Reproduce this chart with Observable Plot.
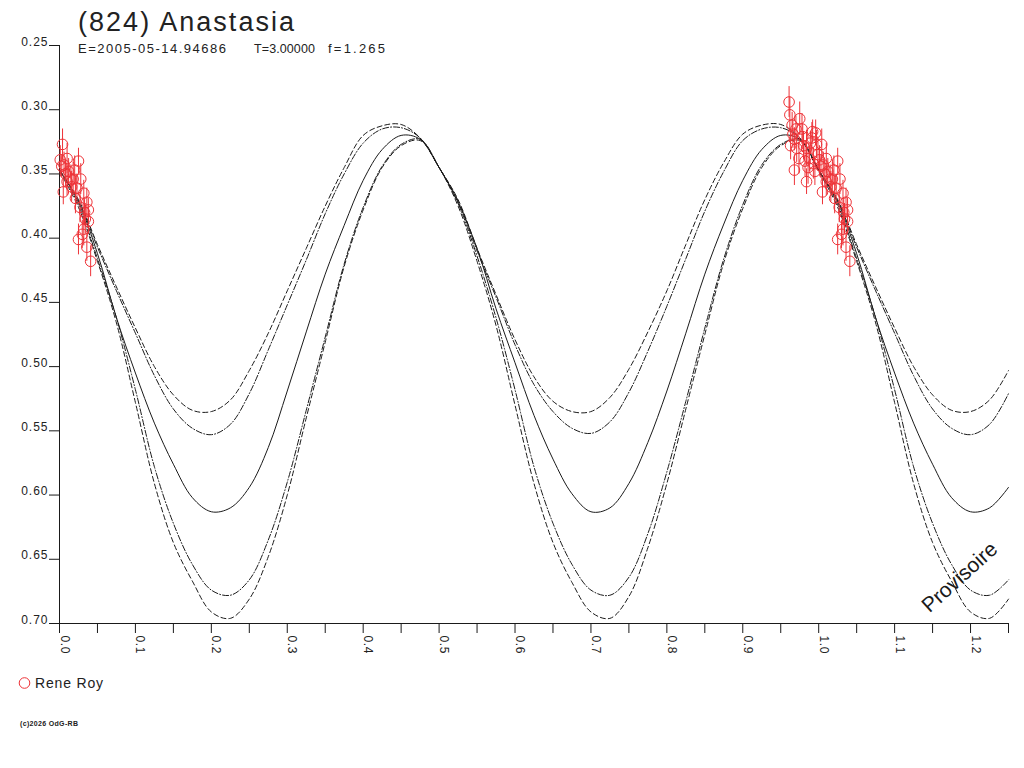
<!DOCTYPE html>
<html><head><meta charset="utf-8">
<script src="https://cdn.jsdelivr.net/npm/d3@7"></script>
<script src="https://cdn.jsdelivr.net/npm/@observablehq/plot@0.6"></script>
<style>
body{margin:0;background:#fff;}
#wrap{position:relative;width:1024px;height:768px;font-family:"Liberation Sans",Arial,sans-serif;color:#222;overflow:hidden;}
#chart svg{position:absolute;left:0;top:0;overflow:visible;}
#overlay{position:absolute;left:0;top:0;pointer-events:none;}
g[aria-label="y-axis tick label"] text{letter-spacing:1px;}
g.xlab text{letter-spacing:0.6px;}
</style></head><body>
<div id="wrap">
  <div id="chart"></div>
  <svg id="overlay" width="1024" height="768" font-family="'Liberation Sans', Arial, sans-serif" fill="#222">
    <text x="78" y="31" font-size="27" textLength="216" lengthAdjust="spacing">(824) Anastasia</text>
    <text x="78" y="53" font-size="13" textLength="148" lengthAdjust="spacing">E=2005-05-14.94686</text>
    <text x="254" y="53" font-size="12.5" letter-spacing="0.1">T=3.00000</text>
    <text x="328" y="53" font-size="13" textLength="57" lengthAdjust="spacing">f=1.265</text>
    <circle cx="24.5" cy="683" r="5.3" fill="none" stroke="#ee3338" stroke-width="1"></circle>
    <text x="35" y="688" font-size="14" textLength="68" lengthAdjust="spacing">Rene Roy</text>
    <text x="20" y="726" font-size="7" font-weight="bold" textLength="58" lengthAdjust="spacing">(c)2026 OdG-RB</text>
  </svg>
</div>
<script>
// sample phases of the model curves (0 .. 1, step 0.025); phases 1..1.25 repeat 0..0.25
const phaseGrid = d3.range(41).map(i => +(i * 0.025).toFixed(3));

const curveSolid = [0.347,0.372,0.412,0.462,0.505,0.544,0.576,0.602,0.613,0.610,0.594,0.563,0.519,0.473,0.428,0.390,0.355,0.331,0.320,0.323,0.345,
                    0.372,0.408,0.455,0.497,0.538,0.572,0.599,0.613,0.610,0.591,0.559,0.519,0.474,0.428,0.389,0.355,0.331,0.320,0.323,0.347];
const curveA = [0.347,0.370,0.405,0.438,0.470,0.500,0.522,0.534,0.535,0.526,0.503,0.474,0.441,0.408,0.375,0.345,0.320,0.3125,0.3115,0.322,0.345,
                0.370,0.408,0.444,0.479,0.508,0.527,0.535,0.535,0.524,0.502,0.473,0.441,0.405,0.370,0.341,0.319,0.312,0.3115,0.322,0.347];
const curveB = [0.347,0.371,0.407,0.441,0.474,0.507,0.533,0.548,0.553,0.545,0.521,0.487,0.452,0.417,0.381,0.350,0.326,0.315,0.314,0.322,0.345,
                0.371,0.410,0.446,0.483,0.514,0.535,0.548,0.552,0.543,0.520,0.488,0.453,0.416,0.379,0.348,0.324,0.315,0.314,0.322,0.347];
const curveC = [0.347,0.374,0.416,0.462,0.518,0.578,0.622,0.654,0.674,0.678,0.666,0.635,0.590,0.534,0.477,0.420,0.376,0.344,0.327,0.323,0.345,
                0.373,0.414,0.462,0.518,0.578,0.622,0.654,0.674,0.678,0.664,0.630,0.582,0.527,0.470,0.416,0.374,0.343,0.327,0.323,0.347];
const curveD = [0.348,0.376,0.418,0.466,0.528,0.591,0.637,0.667,0.691,0.696,0.681,0.648,0.600,0.540,0.481,0.422,0.378,0.345,0.328,0.324,0.345,
                0.375,0.418,0.468,0.530,0.591,0.637,0.668,0.691,0.696,0.679,0.641,0.591,0.533,0.475,0.419,0.377,0.345,0.328,0.324,0.348];

// observations (Rene Roy): phase, reduced magnitude, error
const obsPhase = [0.961,0.962,0.965,0.966,0.968,0.975,0.978,0.979,0.971,0.968,0.984,0.988,0.991,0.992,0.997,0.999,0.984,0.982,0.995,
                  0.970,0.974,0.980,0.986,0.989,0.993,0.996,0.963,
                  0.004,0.001,0.003,0.006,0.010,0.012,0.015,0.018,0.025,0.028,0.023,0.021,0.032,0.036,0.038,0.034,0.038,0.032,0.030,0.025,0.036,0.041,0.005,0.010,
                  0.008,0.016,0.020,0.027,0.033];
const obsMag = [0.294,0.304,0.312,0.319,0.323,0.307,0.315,0.321,0.330,0.347,0.330,0.338,0.322,0.317,0.327,0.335,0.356,0.340,0.348,
                0.315,0.338,0.328,0.345,0.326,0.342,0.318,0.328,
                0.327,0.339,0.344,0.343,0.338,0.348,0.354,0.354,0.340,0.354,0.361,0.369,0.365,0.372,0.378,0.385,0.387,0.393,0.397,0.401,0.407,0.418,0.364,0.356,
                0.350,0.360,0.347,0.376,0.380];
const obsErr = [0.012,0.014,0.010,0.011,0.009,0.013,0.012,0.010,0.011,0.012,0.014,0.010,0.012,0.009,0.011,0.013,0.010,0.012,0.011,
                0.010,0.012,0.011,0.013,0.009,0.012,0.010,0.011,
                0.012,0.011,0.009,0.010,0.012,0.010,0.011,0.013,0.010,0.012,0.011,0.012,0.010,0.011,0.009,0.012,0.010,0.013,0.011,0.012,0.011,0.012,0.010,0.011,
                0.010,0.012,0.011,0.012,0.010];

const yTicks = [0.25,0.30,0.35,0.40,0.45,0.50,0.55,0.60,0.65,0.70];
const xMinorTicks = d3.range(26).map(i => +(i * 0.05).toFixed(2));
const xMajorTicks = d3.range(13).map(i => +(i * 0.1).toFixed(1));

function curveTable(vals) {
  const rows = phaseGrid.map((p, i) => ({phase: p, mag: vals[i]}));
  for (let i = 1; i <= 10; i++) rows.push({phase: 1 + phaseGrid[i], mag: vals[i]});
  return rows;
}
const obs = [];
obsPhase.forEach((p, i) => {
  obs.push({phase: p, mag: obsMag[i], err: obsErr[i]});
  if (p < 0.25) obs.push({phase: p + 1, mag: obsMag[i], err: obsErr[i]});
});

const red = "#ee3338";
const ink = "#1a1a1a";
const plot = Plot.plot({
  width: 1024, height: 768,
  marginLeft: 59, marginRight: 16, marginTop: 45, marginBottom: 145,
  x: {domain: [0, 1.25]},
  y: {domain: [0.25, 0.70], reverse: true},
  style: {fontFamily: "'Liberation Sans', Arial, sans-serif", fontSize: "12px", color: "#222", background: "transparent", overflow: "visible"},
  marks: [
    Plot.ruleX([0], {stroke: ink}),
    Plot.ruleY([0.70], {stroke: ink}),
    Plot.axisY(yTicks, {tickSize: 10, tickPadding: 1, tickFormat: d3.format(".2f"), lineAnchor: "bottom", fontSize: 12, label: null, stroke: ink, fill: "#222"}),
    Plot.axisX(xMinorTicks, {tickSize: 10, tickFormat: () => "", label: null, stroke: ink}),
    Plot.text(xMajorTicks, {x: d => d, text: d => d.toFixed(1), frameAnchor: "bottom", dy: 12, dx: 1, rotate: 90, textAnchor: "start", lineAnchor: "bottom", fontSize: 12, fill: "#222", className: "xlab"}),
    Plot.line(curveTable(curveD), {x: "phase", y: "mag", stroke: ink, strokeWidth: 1, strokeDasharray: "5,3", curve: "catmull-rom"}),
    Plot.line(curveTable(curveA), {x: "phase", y: "mag", stroke: ink, strokeWidth: 1, strokeDasharray: "5,3", curve: "catmull-rom"}),
    Plot.line(curveTable(curveC), {x: "phase", y: "mag", stroke: ink, strokeWidth: 1, strokeDasharray: "6,2,1,2", curve: "catmull-rom"}),
    Plot.line(curveTable(curveB), {x: "phase", y: "mag", stroke: ink, strokeWidth: 1, strokeDasharray: "6,2,1,2", curve: "catmull-rom"}),
    Plot.line(curveTable(curveSolid), {x: "phase", y: "mag", stroke: ink, strokeWidth: 1, curve: "catmull-rom"}),
    Plot.ruleX(obs, {x: "phase", y1: d => d.mag - d.err, y2: d => d.mag + d.err, stroke: red, strokeWidth: 1}),
    Plot.dot(obs, {x: "phase", y: "mag", r: 5.3, stroke: red, fill: "none", strokeWidth: 1}),
    Plot.text(["Provisoire"], {frameAnchor: "bottom-right", dx: -79, dy: -10, rotate: -42, textAnchor: "start", lineAnchor: "bottom", fontSize: 21, fill: ink})
  ]
});
document.getElementById("chart").appendChild(plot);
</script>
</body></html>
